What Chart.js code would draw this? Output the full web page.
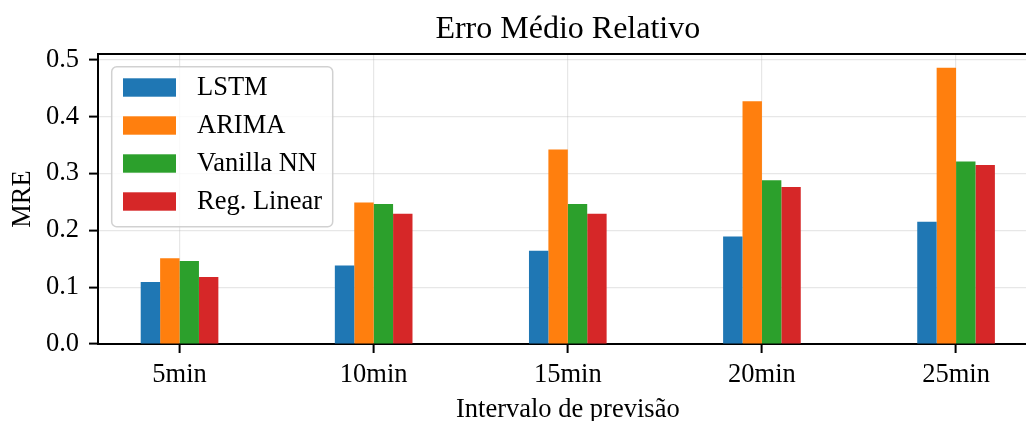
<!DOCTYPE html>
<html>
<head>
<meta charset="utf-8">
<script src="https://cdn.jsdelivr.net/npm/chart.js@4.4.1/dist/chart.umd.min.js"></script>
<style>
  html, body { margin: 0; padding: 0; background: #fff; overflow: hidden; }
  #wrap { width: 1040px; height: 430px; }
</style>
</head>
<body>
<div id="wrap"><canvas id="chart" width="1040" height="430"></canvas></div>
<script>
/* global Chart */

const CATEGORIES = ["5min", "10min", "15min", "20min", "25min"];
const LSTM = [0.109, 0.138, 0.164, 0.189, 0.215];
const ARIMA = [0.151, 0.249, 0.342, 0.427, 0.486];
const VANILLA_NN = [0.146, 0.246, 0.246, 0.288, 0.321];
const REG_LINEAR = [0.118, 0.229, 0.229, 0.276, 0.315];
const Y_TICKS = [0, 0.1, 0.2, 0.3, 0.4, 0.5];

const FONT = "'Liberation Serif', 'DejaVu Serif', serif";

function points(values) {
  // bars sit on a linear x axis so the side margins match the original
  return values.map((v, i) => ({ x: i, y: v }));
}

// legend drawn inside the plot, upper left, like matplotlib's
const insideLegend = {
  id: "insideLegend",
  afterDraw(chart) {
    const { ctx, chartArea } = chart;
    const x = chartArea.left + 13.7;
    const y = chartArea.top + 12.7;
    const w = 221, h = 160;
    ctx.save();
    ctx.beginPath();
    ctx.roundRect(x, y, w, h, 5);
    ctx.fillStyle = "rgba(255,255,255,0.8)";
    ctx.fill();
    ctx.lineWidth = 1.5;
    ctx.strokeStyle = "rgba(204,204,204,0.9)";
    ctx.stroke();
    ctx.font = `26.5px ${FONT}`;
    ctx.textBaseline = "middle";
    chart.data.datasets.forEach((ds, i) => {
      const cy = y + 20.8 + i * 38;
      ctx.fillStyle = ds.backgroundColor;
      ctx.fillRect(x + 11.3, cy - 9.2, 53, 18.4);
      ctx.fillStyle = "#000";
      ctx.fillText(ds.label, x + 85.3, cy + 1);
    });
    ctx.restore();
  }
};

// top and right spines
const frame = {
  id: "frame",
  afterDraw(chart) {
    const { ctx, chartArea } = chart;
    ctx.save();
    ctx.strokeStyle = "#000";
    ctx.lineWidth = 2;
    ctx.beginPath();
    ctx.moveTo(chartArea.left - 1, chartArea.top);
    ctx.lineTo(chartArea.right, chartArea.top);
    ctx.lineTo(chartArea.right, chartArea.bottom);
    ctx.stroke();
    ctx.restore();
  }
};

const COLORS = ["#1f77b4", "#ff7f0e", "#2ca02c", "#d62728"];

new Chart(document.getElementById("chart"), {
  type: "bar",
  data: {
    datasets: [
      { label: "LSTM", data: points(LSTM), backgroundColor: COLORS[0] },
      { label: "ARIMA", data: points(ARIMA), backgroundColor: COLORS[1] },
      { label: "Vanilla NN", data: points(VANILLA_NN), backgroundColor: COLORS[2] },
      { label: "Reg. Linear", data: points(REG_LINEAR), backgroundColor: COLORS[3] }
    ]
  },
  options: {
    responsive: false,
    devicePixelRatio: 1,
    animation: false,
    layout: { padding: { left: 0, right: 2.4, top: 0, bottom: 0 } },
    datasets: {
      bar: { categoryPercentage: 0.4, barPercentage: 1.0, borderWidth: 0 }
    },
    plugins: {
      legend: { display: false },
      tooltip: { enabled: false },
      title: {
        display: true,
        text: "Erro Médio Relativo",
        fullSize: false,
        color: "#000",
        font: { family: FONT, size: 32, weight: "normal" },
        padding: { top: 10, bottom: 5.6 }
      }
    },
    scales: {
      x: {
        type: "linear",
        min: -0.42,
        max: 4.42,
        offset: false,
        z: 1,
        afterBuildTicks(scale) {
          scale.ticks = CATEGORIES.map((_, i) => ({ value: i }));
        },
        afterFit(scale) { scale.height = 86; },
        ticks: {
          color: "#000",
          font: { family: FONT, size: 26.5 },
          padding: 6,
          maxRotation: 0,
          callback: (v) => CATEGORIES[v]
        },
        grid: {
          offset: false,
          color: "rgba(176,176,176,0.3)",
          lineWidth: 1.2,
          tickColor: "#000",
          tickLength: 9,
          tickWidth: 2
        },
        border: { color: "#000", width: 2 },
        title: {
          display: true,
          text: "Intervalo de previsão",
          color: "#000",
          font: { family: FONT, size: 26.5 },
          padding: { top: 0, bottom: 4 }
        }
      },
      y: {
        min: 0,
        max: 0.51,
        z: 1,
        afterBuildTicks(scale) {
          scale.ticks = Y_TICKS.map(v => ({ value: v }));
        },
        afterFit(scale) { scale.width = 98; },
        ticks: {
          color: "#000",
          font: { family: FONT, size: 26.5 },
          padding: 10,
          callback: (v) => v.toFixed(1)
        },
        grid: {
          color: "rgba(176,176,176,0.3)",
          lineWidth: 1.2,
          tickColor: "#000",
          tickLength: 9,
          tickWidth: 2
        },
        border: { color: "#000", width: 2 },
        title: {
          display: true,
          text: "MRE",
          color: "#000",
          font: { family: FONT, size: 26.5 },
          padding: { top: 7, bottom: 0 }
        }
      }
    }
  },
  plugins: [insideLegend, frame]
});
</script>
</body>
</html>
